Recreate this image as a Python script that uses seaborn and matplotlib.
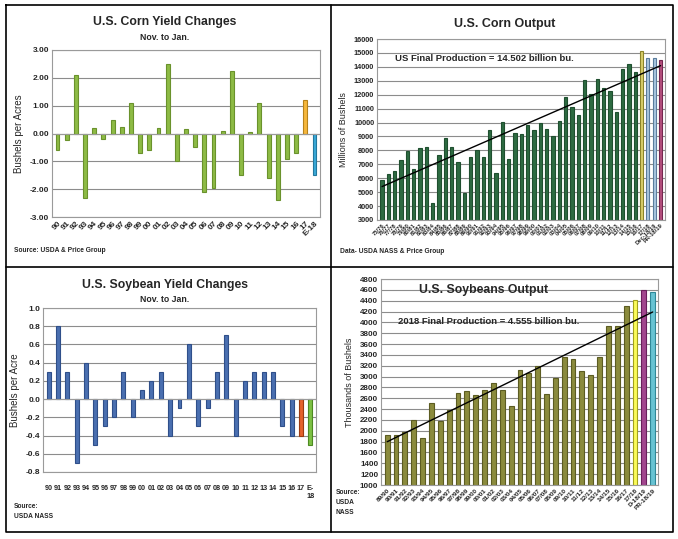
import numpy as np
import matplotlib
matplotlib.use("Agg")
import matplotlib.pyplot as plt
import seaborn as sns

sns.set_style("white")
plt.rcParams['font.family'] = ['Liberation Sans', 'DejaVu Sans']
plt.rcParams['font.weight'] = 'bold'

# --- data ---
corn_yield_years = ["90", "91", "92", "93", "94", "95", "96", "97", "98", "99",
                    "00", "01", "02", "03", "04", "05", "06", "07", "08", "09",
                    "10", "11", "12", "13", "14", "15", "16", "17", "E-18"]
corn_yield_chg = [-0.6, -0.25, 2.1, -2.3, 0.2, -0.2, 0.5, 0.25, 1.1, -0.7,
                  -0.6, 0.2, 2.5, -1.0, 0.15, -0.5, -2.1, -1.95, 0.1, 2.25,
                  -1.5, 0.05, 1.1, -1.6, -2.4, -0.9, -0.7, 1.2, -1.5]

corn_out_years = ["%02d/%02d" % (y % 100, (y + 1) % 100) for y in range(1975, 2018)]
corn_out_years += ["Dec-18/19", "PR-18/19"]
corn_output = [5850, 6300, 6500, 7300, 7950, 6650, 8150, 8250, 4200, 7700,
               8900, 8250, 7150, 4950, 7550, 8000, 7500, 9500, 6350, 10050,
               7400, 9250, 9200, 9800, 9450, 9950, 9550, 9000, 10100, 11800,
               11100, 10550, 13050, 12050, 13100, 12450, 12300, 10750, 13850, 14200,
               13600, 15150, 14650, 14650, 14500]

soy_yield_years = ["90", "91", "92", "93", "94", "95", "96", "97", "98", "99",
                   "00", "01", "02", "03", "04", "05", "06", "07", "08", "09",
                   "10", "11", "12", "13", "14", "15", "16", "17", "E-\n18"]
soy_yield_chg = [0.3, 0.8, 0.3, -0.7, 0.4, -0.5, -0.3, -0.2, 0.3, -0.2,
                 0.1, 0.2, 0.3, -0.4, -0.1, 0.6, -0.3, -0.1, 0.3, 0.7,
                 -0.4, 0.2, 0.3, 0.3, 0.3, -0.3, -0.4, -0.4, -0.5]

soy_out_years = ["%02d/%02d" % (y % 100, (y + 1) % 100) for y in range(1989, 2018)]
soy_out_years += ["D-18/19", "PR-18/19"]
soy_output = [1930, 1925, 1985, 2190, 1870, 2515, 2175, 2380, 2690, 2740,
              2655, 2760, 2890, 2755, 2455, 3125, 3065, 3195, 2675, 2970,
              3360, 3330, 3095, 3035, 3360, 3930, 3925, 4295, 4410, 4600, 4555]

W, H = 678, 539
fig = plt.figure(figsize=(W / 100, H / 100), dpi=100)


def box(x0, y0, x1, y1):
    return [x0 / W, 1 - y1 / H, (x1 - x0) / W, (y1 - y0) / H]


def style_ax(ax, tick_size=6):
    ax.grid(axis="y", color="#8c8c8c", linewidth=0.8)
    ax.set_axisbelow(True)
    for s in ax.spines.values():
        s.set_color("#9a9a9a")
        s.set_linewidth(0.8)
    ax.tick_params(axis="both", length=0, labelsize=tick_size, pad=2)
    ax.set_xlabel("")


def draw_bars(ax, labels, values, fills, edges, width):
    sns.barplot(x=labels, y=values, hue=labels, palette=fills, legend=False,
                width=width, linewidth=0.8, saturation=1, ax=ax)
    for p, ec in zip(ax.patches, edges):
        p.set_edgecolor(ec)


# ---------- corn yield changes ----------
ax1 = fig.add_axes(box(52, 50, 320, 217))
n = len(corn_yield_chg)
fills = ["#8dbb45"] * (n - 2) + ["#f6b73c", "#3aa9d8"]
edges = ["#6a922c"] * (n - 2) + ["#b7821a", "#23789e"]
draw_bars(ax1, corn_yield_years, corn_yield_chg, fills, edges, 0.42)
style_ax(ax1)
yt = [-3, -2, -1, 0, 1, 2, 3]
ax1.set_ylim(-3, 3)
ax1.set_yticks(yt)
ax1.set_yticklabels(["%.2f" % v for v in yt])
ax1.set_xlim(-0.6, n - 0.4)
ax1.axhline(0, color="#9a9a9a", linewidth=0.8)
plt.setp(ax1.get_xticklabels(), rotation=45, ha="right", rotation_mode="anchor")
ax1.set_ylabel("Bushels per Acres", fontsize=7)
fig.text(165 / W, 1 - 22 / H, "U.S. Corn Yield Changes", ha="center", va="center", fontsize=8.8)
fig.text(165 / W, 1 - 38 / H, "Nov. to Jan.", ha="center", va="center", fontsize=6.3)
fig.text(14 / W, 1 - 251 / H, "Source: USDA & Price Group", ha="left", va="center", fontsize=4.8)

# ---------- corn output ----------
ax2 = fig.add_axes(box(377, 39, 665, 220))
n = len(corn_output)
fills = ["#2d6b41"] * (n - 4) + ["#d9cf6b", "#a9c6df", "#a9c6df", "#b5507e"]
edges = ["#1f4f2f"] * (n - 4) + ["#8c8428", "#5a7c9c", "#5a7c9c", "#74264f"]
draw_bars(ax2, corn_out_years, corn_output, fills, edges, 0.5)
style_ax(ax2, 5.3)
ax2.set_ylim(3000, 16000)
ax2.set_yticks(range(3000, 16001, 1000))
ax2.set_xlim(-0.8, n - 0.3)
x = np.arange(n)
k, b = np.polyfit(x, corn_output, 1)
ax2.plot([0, n - 1], [b, k * (n - 1) + b], color="black", linewidth=1)
plt.setp(ax2.get_xticklabels(), rotation=45, ha="right", rotation_mode="anchor", fontsize=4.2)
ax2.set_ylabel("Millions of Bushels", fontsize=6.5, labelpad=4)
ax2.text(2, 14600, "US Final Production = 14.502 billion bu.", fontsize=6.8, va="center")
fig.text(505 / W, 1 - 24 / H, "U.S. Corn Output", ha="center", va="center", fontsize=9)
fig.text(340 / W, 1 - 252 / H, "Data- USDA NASS & Price Group", ha="left", va="center", fontsize=4.8)

# ---------- soybean yield changes ----------
ax3 = fig.add_axes(box(43, 308, 316, 472))
n = len(soy_yield_chg)
fills = ["#4a6fb0"] * (n - 2) + ["#e5622b", "#7dc144"]
edges = ["#2f4f8a"] * (n - 2) + ["#9c3c12", "#4d8a22"]
draw_bars(ax3, soy_yield_years, soy_yield_chg, fills, edges, 0.42)
style_ax(ax3)
yt = [-0.8, -0.6, -0.4, -0.2, 0.0, 0.2, 0.4, 0.6, 0.8, 1.0]
ax3.set_ylim(-0.8, 1.0)
ax3.set_yticks(yt)
ax3.set_yticklabels(["%.1f" % v for v in yt])
ax3.set_xlim(-0.6, n - 0.4)
ax3.axhline(0, color="#9a9a9a", linewidth=0.8)
plt.setp(ax3.get_xticklabels(), fontsize=5.2, va="top")
ax3.tick_params(axis="x", pad=9)
ax3.set_ylabel("Bushels per Acre", fontsize=7)
fig.text(165 / W, 1 - 285 / H, "U.S. Soybean Yield Changes", ha="center", va="center", fontsize=8.8)
fig.text(165 / W, 1 - 299 / H, "Nov. to Jan.", ha="center", va="center", fontsize=6.3)
fig.text(14 / W, 1 - 511 / H, "Source:\nUSDA NASS", ha="left", va="center", fontsize=4.8, linespacing=1.6)

# ---------- soybean output ----------
ax4 = fig.add_axes(box(381, 279, 658, 485))
n = len(soy_output)
fills = ["#8b8b3d"] * (n - 3) + ["#fbfb5a", "#a2468e", "#68c3d3"]
edges = ["#5c5c22"] * (n - 3) + ["#a3a31a", "#6a1e5c", "#2f8898"]
draw_bars(ax4, soy_out_years, soy_output, fills, edges, 0.55)
style_ax(ax4, 5.8)
ax4.set_ylim(1000, 4800)
ax4.set_yticks(range(1000, 4801, 200))
ax4.set_xlim(-0.7, n - 0.4)
x = np.arange(n)
k, b = np.polyfit(x, soy_output, 1)
ax4.plot([0, n - 1], [b, k * (n - 1) + b], color="black", linewidth=1)
plt.setp(ax4.get_xticklabels(), rotation=45, ha="right", rotation_mode="anchor", fontsize=4.6)
ax4.set_ylabel("Thousands of Bushels", fontsize=6.5, labelpad=4)
ax4.text(1.2, 4020, "2018 Final Production = 4.555 billion bu.", fontsize=6.8, va="center")
ax4.text(3.6, 4600, "U.S. Soybeans Output", fontsize=8.8, va="center")
fig.text(336 / W, 1 - 502 / H, "Source:\nUSDA\nNASS", ha="left", va="center", fontsize=4.8, linespacing=1.6)

# ---------- panel borders ----------
frame = dict(color="black", linewidth=1.2, transform=fig.transFigure)
fig.add_artist(plt.Line2D([6 / W, 673 / W, 673 / W, 6 / W, 6 / W],
                          [1 - 5 / H, 1 - 5 / H, 1 - 532 / H, 1 - 532 / H, 1 - 5 / H], **frame))
fig.add_artist(plt.Line2D([331 / W, 331 / W], [1 - 5 / H, 1 - 532 / H], **frame))
fig.add_artist(plt.Line2D([6 / W, 673 / W], [1 - 267 / H, 1 - 267 / H], **frame))

fig.savefig("out.png", dpi=100, facecolor="white")
